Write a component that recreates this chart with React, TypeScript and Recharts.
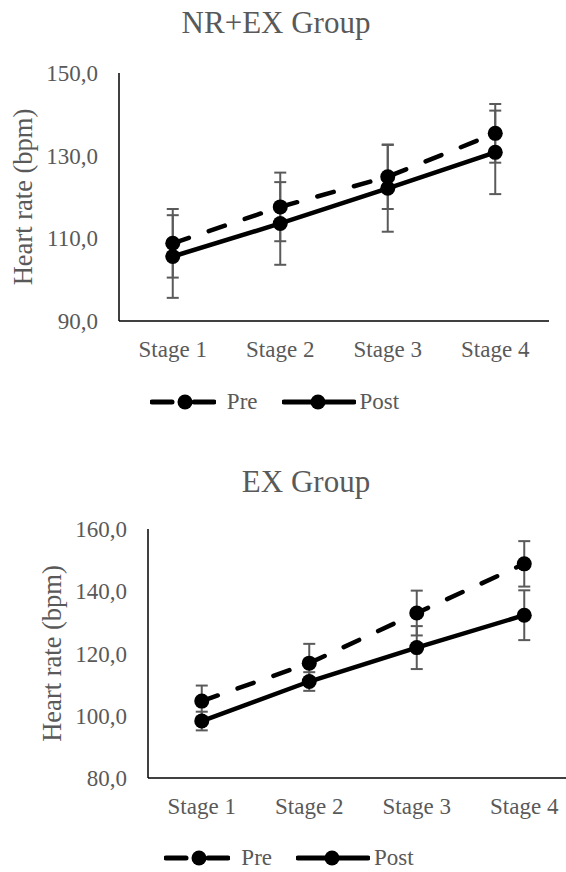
import { LineChart, Line, XAxis, YAxis, ErrorBar, Legend, Label } from "recharts";

const stages = ["Stage 1", "Stage 2", "Stage 3", "Stage 4"];

// NR+EX group
const nrexPre = [108.8, 117.6, 124.9, 135.4];
const nrexPreErr = [8.3, 8.3, 7.8, 7.1];
const nrexPost = [105.6, 113.6, 122.1, 130.8];
const nrexPostErr = [10.0, 10.0, 10.5, 10.1];
const nrexTicks = [90, 110, 130, 150];

// EX group
const exPre = [104.7, 116.9, 133.0, 148.8];
const exPreErr = [5.0, 6.2, 7.2, 7.3];
const exPost = [98.3, 111.0, 121.9, 132.3];
const exPostErr = [3.0, 3.0, 6.9, 8.0];
const exTicks = [80, 100, 120, 140, 160];

const seriesOrder = ["Pre", "Post"];

const FONT = '"Liberation Serif", "Times New Roman", serif';
const TEXT = "#595959";
const PRE_DASH = "17 21";

type Row = {
  stage: string;
  pre: number;
  preErr: number;
  post: number;
  postErr: number;
};

function buildRows(
  pre: number[],
  preErr: number[],
  post: number[],
  postErr: number[]
): Row[] {
  return stages.map((stage, i) => ({
    stage,
    pre: pre[i],
    preErr: preErr[i],
    post: post[i],
    postErr: postErr[i],
  }));
}

const fmt = (v: number) => v.toFixed(1).replace(".", ",");

function LegendContent({ payload }: any) {
  const items = [...((payload || []) as any[])].sort(
    (a, b) => seriesOrder.indexOf(a.value) - seriesOrder.indexOf(b.value)
  );
  return (
    <div
      style={{
        display: "flex",
        justifyContent: "center",
        alignItems: "center",
        height: 24,
        fontFamily: FONT,
        fontSize: 23,
        color: TEXT,
      }}
    >
      {items.map((item, i) => {
        const dashed = item.value === "Pre";
        return (
          <div
            key={item.value}
            style={{ display: "flex", alignItems: "center", marginLeft: i ? 24 : 0 }}
          >
            {dashed ? (
              <svg width={66} height={24}>
                <line x1={2} y1={12} x2={22} y2={12} stroke="#000" strokeWidth={5} strokeLinecap="round" />
                <circle cx={35} cy={12} r={7.5} fill="#000" />
                <line x1={44} y1={12} x2={64} y2={12} stroke="#000" strokeWidth={5} strokeLinecap="round" />
              </svg>
            ) : (
              <svg width={74} height={24}>
                <line x1={2} y1={12} x2={72} y2={12} stroke="#000" strokeWidth={5} strokeLinecap="round" />
                <circle cx={36} cy={12} r={7.5} fill="#000" />
              </svg>
            )}
            <span style={{ marginLeft: dashed ? 11 : 4, lineHeight: "24px" }}>{item.value}</span>
          </div>
        );
      })}
    </div>
  );
}

type GroupProps = {
  title: string;
  rows: Row[];
  top: number;
  width: number;
  height: number;
  titleCenter: number;
  titleTop: number;
  domain: [number, number];
  ticks: number[];
  margin: { top: number; right: number; bottom: number; left: number };
  yAxisWidth: number;
  xAxisHeight: number;
  labelX: number;
};

function GroupChart(p: GroupProps) {
  return (
    <div style={{ position: "absolute", left: 0, top: p.top, width: p.width, height: p.height }}>
      <div
        style={{
          position: "absolute",
          left: p.titleCenter - 200,
          width: 400,
          top: p.titleTop,
          textAlign: "center",
          fontFamily: FONT,
          fontSize: 31,
          lineHeight: "31px",
          color: TEXT,
          whiteSpace: "nowrap",
        }}
      >
        {p.title}
      </div>
      <LineChart width={p.width} height={p.height} data={p.rows} margin={p.margin}>
        <XAxis
          dataKey="stage"
          scale="band"
          height={p.xAxisHeight}
          tickLine={false}
          tickSize={0}
          tickMargin={20}
          interval={0}
          axisLine={{ stroke: "#000", strokeWidth: 1.5 }}
          tick={{ fill: TEXT, fontSize: 23, fontFamily: FONT }}
        />
        <YAxis
          type="number"
          domain={p.domain}
          ticks={p.ticks}
          width={p.yAxisWidth}
          tickFormatter={fmt}
          tickLine={false}
          tickSize={0}
          tickMargin={21}
          axisLine={{ stroke: "#000", strokeWidth: 1.5 }}
          tick={{ fill: TEXT, fontSize: 23, fontFamily: FONT }}
          allowDataOverflow
        >
          <Label
            content={({ viewBox }: any) => {
              const cy = viewBox.y + viewBox.height / 2;
              return (
                <text
                  x={p.labelX}
                  y={cy}
                  transform={`rotate(-90 ${p.labelX} ${cy})`}
                  textAnchor="middle"
                  dominantBaseline="central"
                  fill={TEXT}
                  fontSize={26.5}
                  fontFamily={FONT}
                >
                  Heart rate (bpm)
                </text>
              );
            }}
          />
        </YAxis>
        <Legend verticalAlign="bottom" align="center" height={24} content={<LegendContent />} />
        <Line
          name="Pre"
          dataKey="pre"
          stroke="#000"
          strokeWidth={4.5}
          strokeDasharray={PRE_DASH}
          strokeLinecap="round"
          dot={{ r: 7.5, fill: "#000", stroke: "none" }}
          activeDot={false}
          isAnimationActive={false}
        >
          <ErrorBar dataKey="preErr" direction="y" width={6} stroke="#5a5a5a" strokeWidth={2} />
        </Line>
        <Line
          name="Post"
          dataKey="post"
          stroke="#000"
          strokeWidth={4.5}
          dot={{ r: 7.5, fill: "#000", stroke: "none" }}
          activeDot={false}
          isAnimationActive={false}
        >
          <ErrorBar dataKey="postErr" direction="y" width={6} stroke="#5a5a5a" strokeWidth={2} />
        </Line>
      </LineChart>
    </div>
  );
}

export default function App() {
  const nrexRows = buildRows(nrexPre, nrexPreErr, nrexPost, nrexPostErr);
  const exRows = buildRows(exPre, exPreErr, exPost, exPostErr);
  return (
    <div
      style={{
        position: "absolute",
        left: 0,
        top: 0,
        width: 566,
        height: 872,
        overflow: "hidden",
        background: "#fff",
      }}
    >
      <GroupChart
        title="NR+EX Group"
        rows={nrexRows}
        top={0}
        width={560}
        height={430}
        titleCenter={276}
        titleTop={7}
        domain={[90, 150]}
        ticks={nrexTicks}
        margin={{ top: 73, right: 11, bottom: 16, left: 0 }}
        yAxisWidth={119}
        xAxisHeight={69}
        labelX={23}
      />
      <GroupChart
        title="EX Group"
        rows={exRows}
        top={440}
        width={616}
        height={432}
        titleCenter={306}
        titleTop={26}
        domain={[80, 160]}
        ticks={exTicks}
        margin={{ top: 89, right: 38, bottom: 2, left: 0 }}
        yAxisWidth={148}
        xAxisHeight={68}
        labelX={52}
      />
    </div>
  );
}
